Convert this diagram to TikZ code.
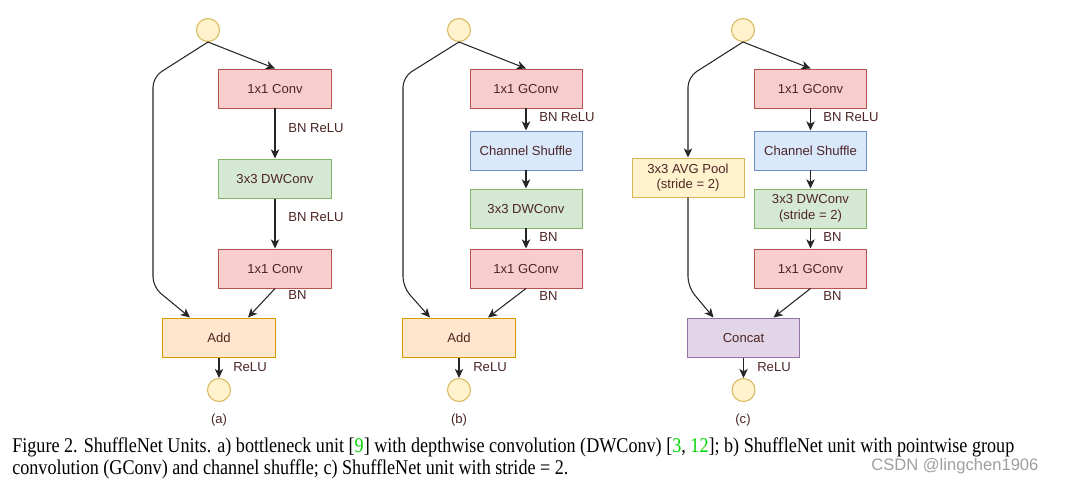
\documentclass[tikz,border=0pt]{standalone}
\usepackage{fontspec}
\setmainfont{Liberation Serif}
\setsansfont{Liberation Sans}
\newfontfamily\capfont[FakeStretch=0.865]{Liberation Serif}
\usepackage{tikz}
\usetikzlibrary{arrows,arrows.meta,shapes,positioning}
\usepackage{xcolor}
\definecolor{snred}{HTML}{F8CECC}
\definecolor{snredline}{HTML}{B85450}
\definecolor{sngreen}{HTML}{D5E8D4}
\definecolor{sngreenline}{HTML}{82B366}
\definecolor{snblue}{HTML}{DAE8FC}
\definecolor{snblueline}{HTML}{6C8EBF}
\definecolor{snorange}{HTML}{FFE6CC}
\definecolor{snorangeline}{HTML}{D79B00}
\definecolor{snyellow}{HTML}{FFF2CC}
\definecolor{snyellowline}{HTML}{D6B656}
\definecolor{snpurple}{HTML}{E1D5E7}
\definecolor{snpurpleline}{HTML}{9673A6}
\definecolor{sntext}{RGB}{77,38,38}
\definecolor{sncite}{RGB}{0,215,0}
\tikzstyle{arrow} = [line width=0.75pt,->,>={Stealth[length=6.5pt,width=6pt,inset=1.8pt]},color=black!85]
\tikzstyle{unit} = [rectangle, minimum width=2.8cm, minimum height=0.975cm, text centered, align=center, line width=0.7pt, text=sntext, font=\sffamily\fontsize{9.3}{11}\selectfont]
\tikzstyle{convunit} = [unit, draw=snredline, fill=snred]
\tikzstyle{dwunit} = [unit, draw=sngreenline, fill=sngreen]
\tikzstyle{shuffleunit} = [unit, draw=snblueline, fill=snblue]
\tikzstyle{addunit} = [unit, draw=snorangeline, fill=snorange]
\tikzstyle{poolunit} = [unit, draw=snyellowline, fill=snyellow]
\tikzstyle{catunit} = [unit, draw=snpurpleline, fill=snpurple]
\tikzstyle{port} = [circle, minimum size=0.575cm, inner sep=0pt, line width=0.7pt, draw=snyellowline, fill=snyellow]
\tikzstyle{note} = [anchor=west, inner sep=0pt, text=sntext, font=\sffamily\fontsize{9.3}{11}\selectfont]
\tikzstyle{caption} = [anchor=base west, inner sep=0pt, font=\capfont\fontsize{14.9}{16}\selectfont]

\begin{document}
\begin{tikzpicture}[x=0.025cm,y=-0.025cm]
\useasboundingbox[fill=white] (0,0) rectangle (1071,486);

% (a) bottleneck unit
\node[port] (a-in) at (208,30) {};
\node[convunit] (a-c1) at (275,88.5) {1x1 Conv};
\node[dwunit, below=1.25cm of a-c1] (a-dw) {3x3 DWConv};
\node[convunit, below=1.25cm of a-dw] (a-c2) {1x1 Conv};
\node[addunit] (a-add) at (219,337.5) {Add};
\node[port] (a-out) at (219,390) {};
\coordinate (a-l1) at (153,77);
\coordinate (a-l2) at (153,287);
\draw[arrow] (a-in.south) -- (a-c1.north);
\draw[arrow] (a-c1) -- (a-dw);
\draw[arrow] (a-dw) -- (a-c2);
\draw[arrow] (a-c2.south) -- ([xshift=0.725cm]a-add.north);
\draw[arrow, rounded corners=0.25cm] (a-in.south) -- (a-l1) -- (a-l2) -- ([xshift=-0.725cm]a-add.north);
\draw[arrow] (a-add) -- (a-out);
\node[note] (a-n1) at (288,128) {BN ReLU};
\node[note] (a-n2) at (288,217) {BN ReLU};
\node[note] (a-n3) at (288,295) {BN};
\node[note] (a-n4) at (233,367) {ReLU};
\node[note, anchor=center] (a-tag) at (219,420) {(a)};

% (b) ShuffleNet unit
\node[port] (b-in) at (459,30) {};
\node[convunit] (b-c1) at (526,88.5) {1x1 GConv};
\node[shuffleunit, below=0.55cm of b-c1] (b-sh) {Channel Shuffle};
\node[dwunit, below=0.45cm of b-sh] (b-dw) {3x3 DWConv};
\node[convunit, below=0.5cm of b-dw] (b-c2) {1x1 GConv};
\node[addunit] (b-add) at (459,337.5) {Add};
\node[port] (b-out) at (459,390) {};
\coordinate (b-l1) at (403,77);
\coordinate (b-l2) at (403,287);
\draw[arrow] (b-in.south) -- (b-c1.north);
\draw[arrow] (b-c1) -- (b-sh);
\draw[arrow] (b-sh) -- (b-dw);
\draw[arrow] (b-dw) -- (b-c2);
\draw[arrow] (b-c2.south) -- ([xshift=0.725cm]b-add.north);
\draw[arrow, rounded corners=0.25cm] (b-in.south) -- (b-l1) -- (b-l2) -- ([xshift=-0.725cm]b-add.north);
\draw[arrow] (b-add) -- (b-out);
\node[note] (b-n1) at (539,117) {BN ReLU};
\node[note] (b-n2) at (539,237) {BN};
\node[note] (b-n3) at (539,296) {BN};
\node[note] (b-n4) at (473,367) {ReLU};
\node[note, anchor=center] (b-tag) at (459,420) {(b)};

% (c) ShuffleNet unit with stride = 2
\node[port] (c-in) at (743,30) {};
\node[convunit] (c-c1) at (810.5,88.5) {1x1 GConv};
\node[shuffleunit, below=0.55cm of c-c1] (c-sh) {Channel Shuffle};
\node[dwunit, below=0.45cm of c-sh] (c-dw) {3x3 DWConv\\(stride = 2)};
\node[convunit, below=0.5cm of c-dw] (c-c2) {1x1 GConv};
\node[poolunit] (c-pool) at (688,177.5) {3x3 AVG Pool\\(stride = 2)};
\node[catunit] (c-cat) at (743.5,337.5) {Concat};
\node[port] (c-out) at (743.5,390) {};
\coordinate (c-l1) at (688,77);
\coordinate (c-l2) at (688,287);
\draw[arrow] (c-in.south) -- (c-c1.north);
\draw[arrow] (c-c1) -- (c-sh);
\draw[arrow] (c-sh) -- (c-dw);
\draw[arrow] (c-dw) -- (c-c2);
\draw[arrow] (c-c2.south) -- ([xshift=0.75cm]c-cat.north);
\draw[arrow, rounded corners=0.25cm] (c-in.south) -- (c-l1) -- (c-pool.north);
\draw[arrow, rounded corners=0.25cm] (c-pool.south) -- (c-l2) -- ([xshift=-0.75cm]c-cat.north);
\draw[arrow] (c-cat) -- (c-out);
\node[note] (c-n1) at (823,117) {BN ReLU};
\node[note] (c-n2) at (823,237) {BN};
\node[note] (c-n3) at (823,296) {BN};
\node[note] (c-n4) at (757,367) {ReLU};
\node[note, anchor=center] (c-tag) at (743,420) {(c)};

% caption
\node[caption] (cap1) at (12,452.5) {Figure 2. ShuffleNet Units. a) bottleneck unit [\textcolor{sncite}{9}] with depthwise convolution (DWConv) [\textcolor{sncite}{3}, \textcolor{sncite}{12}]; b) ShuffleNet unit with pointwise group};
\node[caption] (cap2) at (12,474.5) {convolution (GConv) and channel shuffle; c) ShuffleNet unit with stride = 2.};
\node[anchor=west, inner sep=0pt, text=gray!75, font=\sffamily\fontsize{11.8}{13}\selectfont] (mark) at (871,466) {CSDN @lingchen1906};
\end{tikzpicture}
\end{document}
